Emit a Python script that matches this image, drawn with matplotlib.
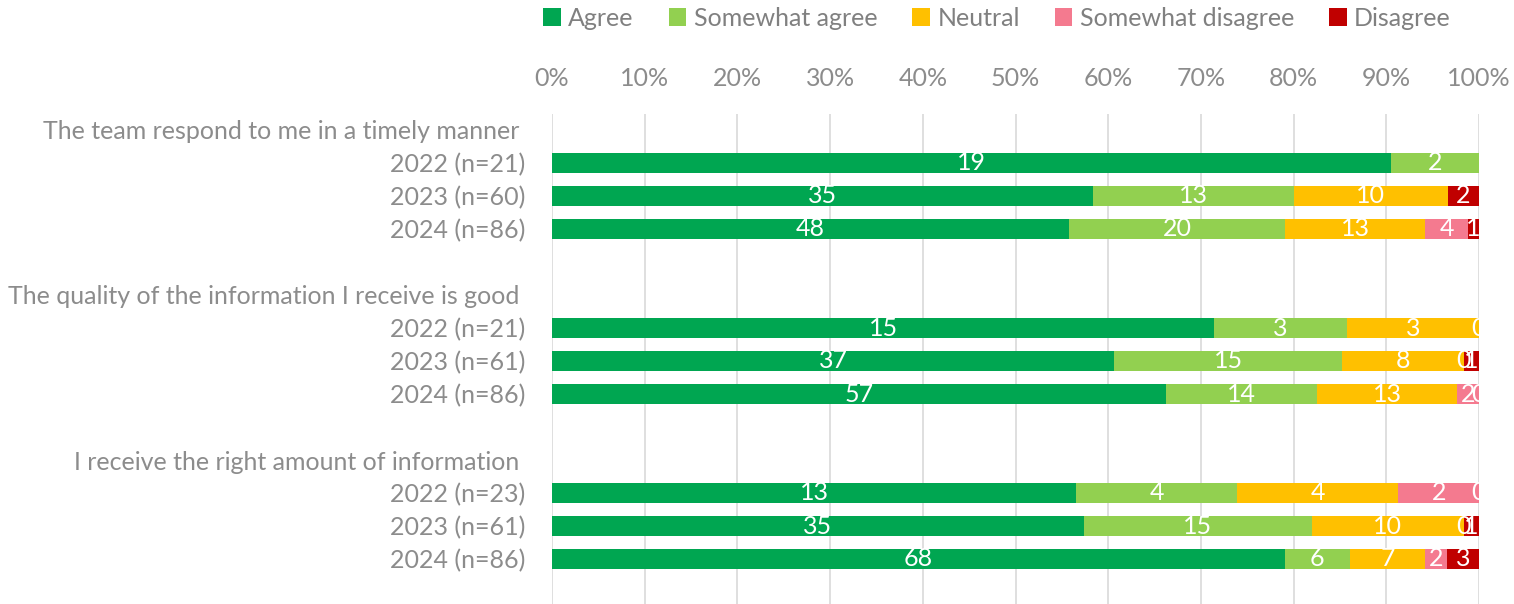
import matplotlib.pyplot as plt
import numpy as np

plt.rcParams['font.family'] = ['Lato', 'DejaVu Sans']

# rows top to bottom; question rows and spacer rows have no bars
rows = ["The team respond to me in a timely manner ", "2022 (n=21)", "2023 (n=60)", "2024 (n=86)", "",
        "The quality of the information I receive is good ", "2022 (n=21)", "2023 (n=61)", "2024 (n=86)", "",
        "I receive the right amount of information ", "2022 (n=23)", "2023 (n=61)", "2024 (n=86)"]

series = ["Agree", "Somewhat agree", "Neutral", "Somewhat disagree", "Disagree"]
colors = ["#00A651", "#92D050", "#FFC000", "#F47A8F", "#C00000"]

N = None
agree = [N, 19, 35, 48, N, N, 15, 37, 57, N, N, 13, 35, 68]
somewhat_agree = [N, 2, 13, 20, N, N, 3, 15, 14, N, N, 4, 15, 6]
neutral = [N, N, 10, 13, N, N, 3, 8, 13, N, N, 4, 10, 7]
somewhat_disagree = [N, N, N, 4, N, N, 0, 0, 2, N, N, 2, 0, 2]
disagree = [N, N, 2, 1, N, N, N, 1, 0, N, N, 0, 1, 3]

data = [agree, somewhat_agree, neutral, somewhat_disagree, disagree]

fig = plt.figure(figsize=(15.14, 6.04), dpi=100)
ax = fig.add_axes([552 / 1514, 0, 927 / 1514, 1 - 113.5 / 604])

y = np.arange(len(rows))
vals = np.array([[np.nan if v is None else v for v in s] for s in data], dtype=float)
totals = np.nansum(vals, axis=0)
totals[totals == 0] = 1
pct = np.nan_to_num(vals) / totals

left = np.zeros(len(rows))
for i, name in enumerate(series):
    ax.barh(y, pct[i], left=left, height=0.6, color=colors[i], label=name, zorder=2)
    for j in range(len(rows)):
        if not np.isnan(vals[i, j]):
            ax.text(left[j] + pct[i, j] / 2, y[j], "%d" % vals[i, j], ha="center", va="center",
                    color="white", fontsize=18, zorder=3)
    left += pct[i]

ax.set_xlim(0, 1)
ax.set_ylim(-0.5 + 490.5 / 33, -0.5)
ax.set_yticks(y)
ax.set_yticklabels(rows, fontsize=18, color="#8C8C8C")
ax.set_xticks(np.linspace(0, 1, 11))
ax.set_xticklabels(["%d%%" % p for p in range(0, 101, 10)], fontsize=18, color="#8C8C8C")
ax.xaxis.tick_top()
ax.tick_params(length=0)
ax.tick_params(axis="x", pad=17)
ax.tick_params(axis="y", pad=19)
ax.grid(axis="x", color="#D9D9D9", linewidth=1.2, zorder=0)
for s in ax.spines.values():
    s.set_visible(False)

fig.legend(loc="center", bbox_to_anchor=(997 / 1514, 1 - 18 / 604), ncol=5, frameon=False,
           fontsize=18, handlelength=0.7, handleheight=0.7, handletextpad=0.3, columnspacing=1.4,
           labelcolor="#808080")

fig.savefig("out.png", dpi=100)
